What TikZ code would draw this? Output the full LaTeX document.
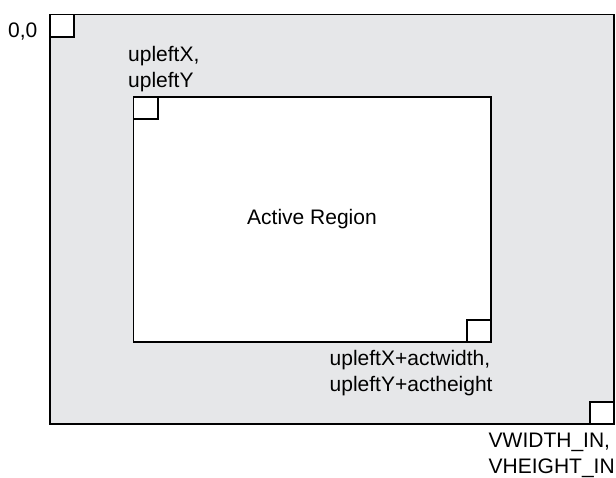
\documentclass[tikz,border=0pt]{standalone}
\usepackage{fontspec}
\setmainfont{Liberation Sans}
\definecolor{regiongray}{HTML}{E6E7E9}
\begin{document}
\begin{tikzpicture}[x=1pt,y=-1pt,
  frame/.style={draw=black,line width=1.2pt},
  corner/.style={draw=black,fill=white,line width=1.2pt},
  lbl/.style={font=\fontsize{21}{26}\selectfont,inner sep=0pt,anchor=base west},
  lblr/.style={font=\fontsize{21}{26}\selectfont,inner sep=0pt,anchor=base east}]
\useasboundingbox (0,0) rectangle (616,478);
% outer region
\draw[frame,fill=regiongray] (50,14.5) rectangle (614,424);
\draw[corner] (50,14.5) rectangle (74,37);
\draw[corner] (590,402) rectangle (614,424);
% active region
\draw[frame,fill=white] (133.5,97) rectangle (491,342);
\draw[corner] (133.5,97) rectangle (158,119);
\draw[corner] (467,320) rectangle (491,342);
% labels
\node[lblr] (origin) at (37.5,38) {0,0};
\node[lbl] (ulx) at (128,61.5) {upleftX,};
\node[lbl] (uly) at (128,87.5) {upleftY};
\node[font=\fontsize{21}{26}\selectfont,inner sep=0pt] (act) at (312,219.5) {Active Region};
\node[lbl] (lrx) at (329.5,365.5) {upleftX+actwidth,};
\node[lbl] (lry) at (329.5,391.5) {upleftY+actheight};
\node[lbl] (vw) at (488.5,447) {VWIDTH\_IN,};
\node[lbl] (vh) at (488.5,473) {VHEIGHT\_IN};
\end{tikzpicture}
\end{document}
